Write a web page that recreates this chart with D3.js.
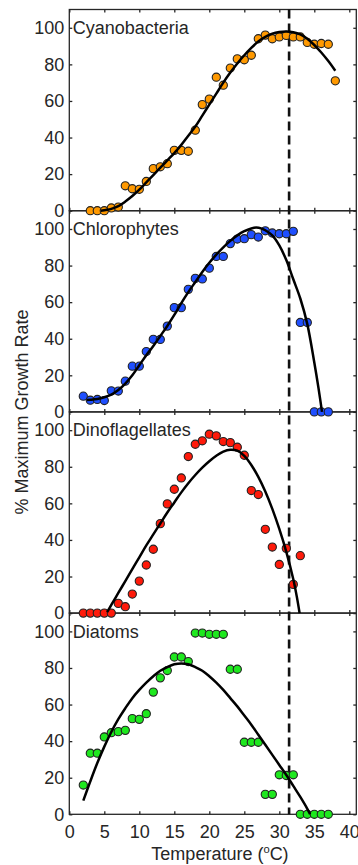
<!DOCTYPE html>
<html>
<head>
<meta charset="utf-8">
<script src="https://cdn.jsdelivr.net/npm/d3@7/dist/d3.min.js"></script>
<style>
  body { margin: 0; background: #fff; }
  svg { display: block; font-family: "Liberation Sans", Arial, sans-serif; }
  .tick text { fill: #262626; }
</style>
</head>
<body>
<div id="chart"></div>
<script>
// temperature ticks and y ticks
const xTicks = [0, 5, 10, 15, 20, 25, 30, 35, 40];
const yTicks = [0, 20, 40, 60, 80, 100];
const topt = 31.4; // dashed line (°C)

// panel names and marker colours
const groups = ['Cyanobacteria', 'Chlorophytes', 'Dinoflagellates', 'Diatoms'];
const colors = ['#ff9900', '#1f4fff', '#ff1a0a', '#1ee81e'];

// measured growth (% max), one value per degree
const cyanoT = d3.range(3, 39);
const cyanoV = [0, 0, 0, 1.5, 2, 13.6, 12, 11.7, 16, 23, 24, 25.7, 33, 33, 32.5, 44, 58, 61, 73, 68.6,
  78, 83, 82.5, 85, 94, 96, 94, 95, 95.8, 95, 95, 92, 91, 91.4, 91, 71];
const chloroT = d3.range(2, 38);
const chloroV = [8.6, 6.4, 6.8, 6.2, 11.5, 11.4, 16.8, 25, 25, 33, 39.7, 39.6, 46.9, 57, 57, 67, 73, 72.7,
  78.6, 85, 85, 92, 94.5, 94.7, 96.9, 95.6, 99, 97.8, 97.4, 97.4, 98.7, 48.9, 48.9, 0, 0, 0];
const dinoT = d3.range(2, 34);
const dinoV = [0, 0, 0, 0, 0, 5.3, 3.5, 10.4, 17.5, 26.3, 34.9, 48.9, 59.7, 67.7, 73.9, 85.6, 92.3, 94.2,
  97.8, 96.9, 93.8, 93.2, 90.7, 86.3, 67, 64.8, 45.8, 36.1, 26.6, 35.4, 15.7, 31.4];
const diatomT = d3.range(2, 38);
const diatomV = [16, 33.4, 33.4, 42.3, 44.6, 45.2, 45.9, 52.3, 51.9, 55, 66.8, 74.6, 78.6, 86, 86, 83.5,
  99.1, 99.1, 98.4, 98.4, 98.4, 79.3, 79.3, 39.4, 39.4, 39.4, 10.9, 10.9, 21.6, 21.2, 21.6, 0, 0, 0, 0, 0];

// fitted curves
const cyanoFitT = [4.5, 6, 7, 8, 9, 10, 11, 12, 13, 14, 15, 16, 17, 18, 19, 20, 21, 22, 23, 24, 25, 26, 27, 28,
  29, 30, 31, 32, 33, 34, 35, 36, 37, 38];
const cyanoFitV = [0, 1, 2.5, 5, 8, 11.5, 15.5, 19.5, 23.5, 27.5, 31.5, 36, 41, 46, 52, 58, 64, 70, 75.5, 80.5,
  85, 89, 92.5, 95, 96.8, 97.7, 98, 97.6, 96.4, 94, 90.6, 86.5, 81.8, 76.5];
const chloroFitT = [2.5, 3, 4, 5, 6, 7, 8, 9, 10, 11, 12, 13, 14, 15, 16, 17, 18, 19, 20, 21, 22, 23, 24, 25,
  26, 26.7, 27.5, 28, 29, 30, 31, 32, 33, 34, 35, 35.6, 36.1];
const chloroFitV = [6.5, 6.6, 7, 8, 9.5, 12, 15.5, 20, 25.5, 31, 36, 41.5, 47, 53, 59.5, 65.5, 71, 76.5, 81.5,
  86, 90, 93.5, 96.5, 98.8, 100.3, 100.8, 100.2, 99.3, 96.5, 91, 83, 72.5, 62, 48, 27, 13, 0];
const dinoFitT = [5.4, 6, 7, 8, 9, 10, 11, 12, 13, 14, 15, 16, 17, 18, 19, 20, 21, 22, 23, 24, 25, 26, 27, 28,
  29, 30, 31, 32, 32.5, 32.9];
const dinoFitV = [0.5, 4.5, 11, 17.5, 24, 30.5, 37, 43, 49, 55, 60.5, 66, 71, 75.5, 79.5, 83, 86, 88.3, 89.3,
  88.8, 86, 81, 74.5, 66.5, 57, 46, 33.5, 18.5, 9, 0];
const diatomFitT = [2, 3, 4, 5, 6, 7, 8, 9, 10, 11, 12, 13, 14, 15, 16, 17, 18, 19, 20, 21, 22, 23, 24, 25, 26,
  27, 28, 29, 30, 31, 32, 33, 34, 34.4];
const diatomFitV = [7.5, 18, 28, 37, 45, 52, 58, 63.5, 68, 72, 75.5, 78.5, 80.5, 82, 82.5, 82, 80.5, 78.5, 75.5,
  72, 68, 63.5, 59, 54, 49, 43.5, 38, 32.5, 27, 21.5, 15.5, 9.5, 3, 0];

const obsT = [cyanoT, chloroT, dinoT, diatomT];
const obsV = [cyanoV, chloroV, dinoV, diatomV];
const fitT = [cyanoFitT, chloroFitT, dinoFitT, diatomFitT];
const fitV = [cyanoFitV, chloroFitV, dinoFitV, diatomFitV];

const W = 358, H = 865;
const plotL = 69.3, plotR = 356.3, plotT = 9.5, panelH = 201.2;
const fs = 18;
const ink = '#262626';

const svg = d3.select('#chart').append('svg')
  .attr('width', W).attr('height', H);

const x = d3.scaleLinear().domain([0, 41]).range([plotL, plotR]);
const panels = [];

groups.forEach((name, i) => {
  const y0 = plotT + i * panelH;
  const y = d3.scaleLinear().domain([0, 110]).range([y0 + panelH, y0]);
  const g = svg.append('g');

  // box
  g.append('rect')
    .attr('x', plotL).attr('y', y0)
    .attr('width', plotR - plotL).attr('height', panelH)
    .attr('fill', 'none').attr('stroke', ink).attr('stroke-width', 1.3);

  const last = i === groups.length - 1;
  g.append('g').attr('transform', `translate(0,${y0 + panelH})`)
    .call(d3.axisBottom(x).tickValues(xTicks).tickSize(-3).tickPadding(11)
      .tickFormat(last ? d3.format('d') : () => ''));
  g.append('g').attr('transform', `translate(0,${y0})`)
    .call(d3.axisTop(x).tickValues(xTicks).tickSize(-3).tickFormat(() => ''));
  g.append('g').attr('transform', `translate(${plotL},0)`)
    .call(d3.axisLeft(y).tickValues(yTicks).tickSize(-3).tickPadding(5));
  g.append('g').attr('transform', `translate(${plotR},0)`)
    .call(d3.axisRight(y).tickValues(yTicks).tickSize(-3).tickFormat(() => ''));

  g.selectAll('.domain').remove();
  g.selectAll('.tick line').attr('stroke', ink).attr('stroke-width', 1.3);
  g.selectAll('.tick text').attr('font-size', fs).attr('font-family', 'Liberation Sans, Arial, sans-serif');

  g.append('text')
    .attr('x', plotL + 3.5).attr('y', y0 + 24.5)
    .attr('font-size', fs).attr('fill', ink)
    .text(name);

  panels.push({ y });
});

// axis titles
const xTitle = svg.append('text')
  .attr('x', 220).attr('y', 860)
  .attr('text-anchor', 'middle')
  .attr('font-size', fs).attr('fill', ink);
xTitle.append('tspan').text('Temperature (');
xTitle.append('tspan').attr('font-size', fs * 0.62).attr('dy', -7).text('o');
xTitle.append('tspan').attr('dy', 7).text('C)');

svg.append('text')
  .attr('transform', `translate(28,${plotT + 2 * panelH}) rotate(-90)`)
  .attr('text-anchor', 'middle')
  .attr('font-size', fs).attr('fill', ink)
  .text('% Maximum Growth Rate');

// dashed optimum line across all panels
svg.append('line')
  .attr('x1', x(topt)).attr('x2', x(topt))
  .attr('y1', plotT).attr('y2', plotT + 4 * panelH)
  .attr('stroke', '#111').attr('stroke-width', 2.6)
  .attr('stroke-dasharray', '9,5');

// markers and fitted curves, panel by panel so lower markers sit above
groups.forEach((name, i) => {
  const { y } = panels[i];
  const g = svg.append('g');
  const pts = obsT[i].map((t, k) => [t, obsV[i][k]]);
  g.selectAll('circle').data(pts).enter().append('circle')
    .attr('cx', d => x(d[0]))
    .attr('cy', d => y(d[1]))
    .attr('r', 4.1)
    .attr('fill', colors[i])
    .attr('stroke', '#222')
    .attr('stroke-width', 1.1);

  const fit = fitT[i].map((t, k) => [t, fitV[i][k]]);
  g.append('path')
    .datum(fit)
    .attr('d', d3.line().x(d => x(d[0])).y(d => y(d[1])).curve(d3.curveCatmullRom))
    .attr('fill', 'none')
    .attr('stroke', '#000')
    .attr('stroke-width', 2.5);
});
</script>
</body>
</html>
